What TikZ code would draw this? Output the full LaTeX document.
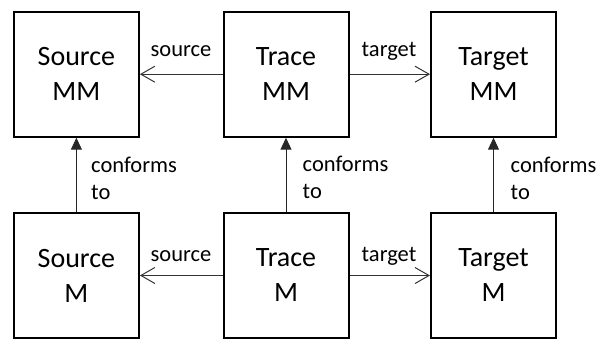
\documentclass[tikz,border=0pt]{standalone}
\usepackage{fontspec}
\setmainfont{Carlito}
\usetikzlibrary{arrows.meta}
\tikzset{
  mbox/.style={draw, line width=2pt, minimum width=125pt, minimum height=125pt,
    inner sep=0pt, align=center, font=\fontsize{28}{35}\selectfont},
  harrow/.style={draw=black!80, line width=1pt, -{Straight Barb[length=14pt,width=16pt,line width=1pt]}},
  varrow/.style={draw=black!85, line width=1pt, -{Triangle[length=12pt,width=11pt]}},
  lbl/.style={inner sep=0pt, font=\fontsize{22.5}{27}\selectfont},
  clbl/.style={lbl, align=left, anchor=south west}
}
\begin{document}
\begin{tikzpicture}[x=1pt,y=-1pt]
\useasboundingbox (0,0) rectangle (601,338);
\clip (0,0) rectangle (601,338);
% top row
\node[mbox] (smm) at (76.4,74.2) {Source\\MM};
\node[mbox] (tmm) at (286,74.2) {Trace\\MM};
\node[mbox] (gmm) at (493.5,74.2) {Target\\MM};
% bottom row
\node[mbox] (sm) at (76.4,275.5) {Source\\M};
\node[mbox] (tm) at (286,275.5) {Trace\\M};
\node[mbox] (gm) at (493.5,275.5) {Target\\M};
% horizontal arrows
\draw[harrow] (tmm) -- (smm);
\draw[harrow] (tmm) -- (gmm);
\draw[harrow] (tm) -- (sm);
\draw[harrow] (tm) -- (gm);
\node[lbl, anchor=base] (ls1) at (181,56) {source};
\node[lbl, anchor=base] (lt1) at (389,56) {target};
\node[lbl, anchor=base] (ls2) at (181,261) {source};
\node[lbl, anchor=base] (lt2) at (389,261) {target};
% vertical arrows
\draw[varrow] (sm.north) -- (sm.north |- smm.south);
\draw[varrow] (tm.north) -- (tm.north |- tmm.south);
\draw[varrow] (gm.north) -- (gm.north |- gmm.south);
\node[clbl] (c1) at (91,200) {conforms\\to};
\node[clbl] (c2) at (302.5,199) {conforms\\to};
\node[clbl] (c3) at (510.5,200) {conforms\\to};
\end{tikzpicture}
\end{document}
